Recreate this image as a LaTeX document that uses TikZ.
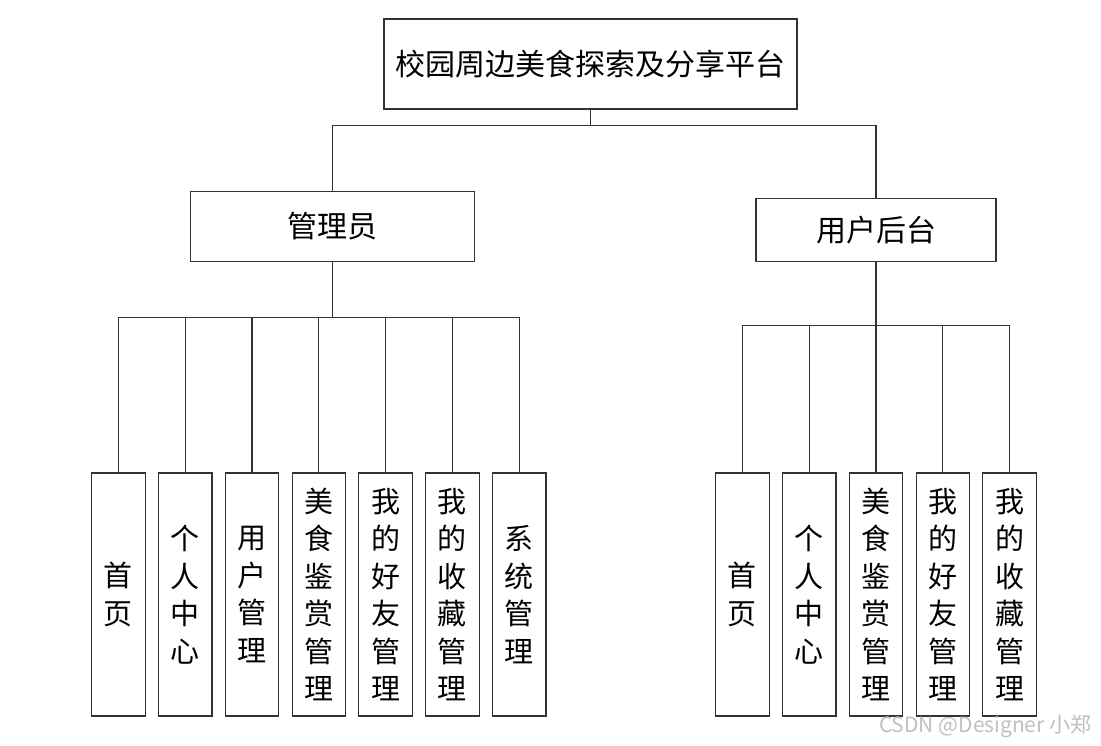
\documentclass[tikz,border=0pt]{standalone}
\usepackage{fontspec}
\usepackage{tikz}
\usetikzlibrary{calc}
\newfontfamily\cjk{Noto Sans CJK SC}
\tikzset{
  topbox/.style={shape=rectangle,draw=black!80,line width=1.1pt,inner sep=0pt,
    font=\cjk\fontsize{30}{36}\selectfont},
  leafbox/.style={shape=rectangle,draw=black!80,line width=1.1pt,inner sep=0pt,
    minimum width=53.5pt,minimum height=243pt,align=center,
    font=\cjk\fontsize{29}{37.5}\selectfont},
  wire/.style={draw=black!80,line width=1.1pt}
}

\begin{document}
\begin{tikzpicture}[x=1pt,y=-1pt]
\useasboundingbox (0,0) rectangle (1101,746);

\node(root) at (590.5,64)[topbox,minimum width=413pt,minimum height=90pt] {校园周边美食探索及分享平台};
\node(adm)  at (332.5,226.5)[topbox,minimum width=284pt,minimum height=70.5pt] {管理员};
\node(usr)  at (876,230)[topbox,minimum width=240pt,minimum height=63.5pt] {用户后台};

\coordinate(bus0) at (590.5,125.5);
\coordinate(busA) at (332.5,317.5);
\coordinate(busU) at (876,325.5);

\node(a1) at (118.4,594.5)[leafbox] {首\\页};
\node(a2) at (185.2,594.5)[leafbox] {个\\人\\中\\心};
\node(a3) at (252.0,594.5)[leafbox] {用\\户\\管\\理};
\node(a4) at (318.8,594.5)[leafbox] {美\\食\\鉴\\赏\\管\\理};
\node(a5) at (385.6,594.5)[leafbox] {我\\的\\好\\友\\管\\理};
\node(a6) at (452.4,594.5)[leafbox] {我\\的\\收\\藏\\管\\理};
\node(a7) at (519.2,594.5)[leafbox] {系\\统\\管\\理};

\node(u1) at (742.4,594.5)[leafbox] {首\\页};
\node(u2) at (809.2,594.5)[leafbox] {个\\人\\中\\心};
\node(u3) at (876.0,594.5)[leafbox] {美\\食\\鉴\\赏\\管\\理};
\node(u4) at (942.8,594.5)[leafbox] {我\\的\\好\\友\\管\\理};
\node(u5) at (1009.6,594.5)[leafbox] {我\\的\\收\\藏\\管\\理};

\node(mark) at (1095,726)[anchor=east,text=black!25,font=\cjk\fontsize{21}{24}\selectfont] {CSDN @Designer 小郑};

% top level
\path [wire]
  (root.south) -- (bus0)
  (adm.north)  |- (bus0)
  (usr.north)  |- (bus0);

% admin side
\path [wire]
  (adm.south) -- (busA)
  (a1.north) |- (busA)
  (a2.north) |- (busA)
  (a3.north) |- (busA)
  (a4.north) |- (busA)
  (a5.north) |- (busA)
  (a6.north) |- (busA)
  (a7.north) |- (busA);

% user side
\path [wire]
  (usr.south) -- (busU)
  (u1.north) |- (busU)
  (u2.north) |- (busU)
  (u3.north) |- (busU)
  (u4.north) |- (busU)
  (u5.north) |- (busU);

\end{tikzpicture}
\end{document}
